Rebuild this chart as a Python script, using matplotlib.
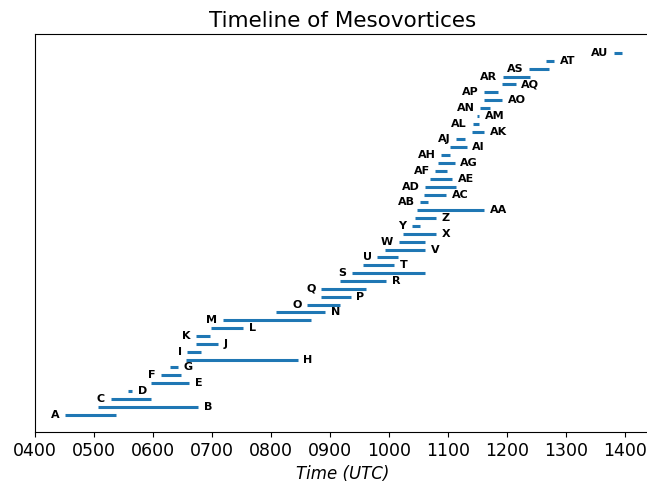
import matplotlib
matplotlib.use("Agg")
import matplotlib.pyplot as plt
import numpy as np

# mesovortex names, in order of first appearance
names = ['A', 'B', 'C', 'D', 'E', 'F', 'G', 'H', 'I', 'J', 'K', 'L', 'M', 'N', 'O',
         'P', 'Q', 'R', 'S', 'T', 'U', 'V', 'W', 'X', 'Y', 'Z',
         'AA', 'AB', 'AC', 'AD', 'AE', 'AF', 'AG', 'AH', 'AI', 'AJ', 'AK', 'AL',
         'AM', 'AN', 'AO', 'AP', 'AQ', 'AR', 'AS', 'AT', 'AU']

# start / end times in minutes after 0000 UTC
start_min = [271, 304, 317, 335, 358, 368, 377, 394, 395, 404, 404, 419, 431, 485, 517,
             531, 531, 550, 562, 574, 588, 596, 610, 614, 623, 626,
             628, 632, 636, 637, 642, 647, 650, 653, 662, 668, 684, 685,
             689, 693, 697, 697, 715, 716, 742, 760, 829]
end_min = [322, 406, 358, 339, 397, 389, 385, 507, 409, 426, 418, 452, 521, 535, 550,
           561, 577, 597, 637, 605, 609, 637, 637, 648, 632, 648,
           697, 640, 658, 668, 664, 659, 667, 662, 679, 677, 697, 692,
           692, 703, 715, 711, 729, 743, 763, 768, 837]

# which side the name is written on
label_side = ['L', 'R', 'L', 'R', 'R', 'L', 'R', 'R', 'L', 'R', 'L', 'R', 'L', 'R', 'L',
              'R', 'L', 'R', 'L', 'R', 'L', 'R', 'L', 'R', 'L', 'R',
              'R', 'L', 'R', 'L', 'R', 'L', 'R', 'L', 'R', 'L', 'R', 'L',
              'R', 'L', 'R', 'L', 'R', 'L', 'L', 'R', 'L']

tick_hours = list(range(4, 15))

fig = plt.figure(figsize=(6.47, 4.88), dpi=100)
ax = fig.add_axes([0.054, 0.115, 0.95, 0.815])

y = np.arange(len(names))
ax.hlines(y, start_min, end_min, color='#1f77b4', linewidth=2.2)

for i, n in enumerate(names):
    if label_side[i] == 'L':
        ax.annotate(n, (start_min[i], y[i]), xytext=(-4, 0), textcoords='offset points',
                    ha='right', va='center', fontsize=8, fontweight='bold')
    else:
        ax.annotate(n, (end_min[i], y[i]), xytext=(4, 0), textcoords='offset points',
                    ha='left', va='center', fontsize=8, fontweight='bold')

ax.set_xticks([h * 60 for h in tick_hours])
ax.set_xticklabels(['%02d00' % h for h in tick_hours], fontsize=12.5)
ax.set_xlim(240, 865)
ax.set_ylim(-2.2, 48.4)
ax.set_yticks([])
ax.set_xlabel('Time (UTC)', fontsize=12, style='italic')
ax.set_title('Timeline of Mesovortices', fontsize=15.5, pad=5)

fig.savefig('out.png', dpi=100)
